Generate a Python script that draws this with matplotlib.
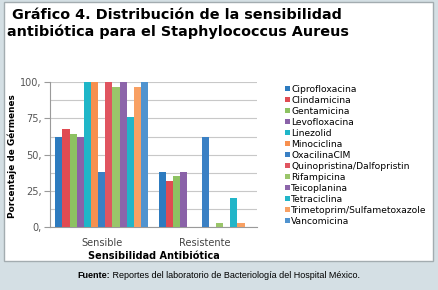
import matplotlib
matplotlib.use("Agg")
import matplotlib.pyplot as plt
import numpy as np
from matplotlib.patches import Rectangle

categories = ["Sensible", "Resistente"]
antibiotics = ["Ciprofloxacina", "Clindamicina", "Gentamicina", "Levofloxacina",
               "Linezolid", "Minociclina", "OxacilinaCIM", "Quinopristina/Dalfopristin",
               "Rifampicina", "Teicoplanina", "Tetraciclina",
               "Trimetoprim/Sulfametoxazole", "Vancomicina"]
sensible = [62, 68, 64, 62, 100, 100, 38, 100, 97, 100, 76, 97, 100]
resistente = [38, 32, 35, 38, 0, 0, 62, 0, 3, 0, 20, 3, 0]
colors = ['#2d7bbf', '#e04b52', '#8dc262', '#8a62a8', '#1fb6c8', '#f7904f',
          '#3a80c4', '#e05560', '#9ac56a', '#8c65aa', '#22b5c8', '#f8a063', '#5093cf']
yticks = [0, 25, 50, 75, 100]

W, H = 438, 290
fig = plt.figure(figsize=(W / 100, H / 100), dpi=100)
fig.patch.set_facecolor('#d4dfe4')

# white panel
fig.patches.append(Rectangle((4 / W, 1 - 261 / H), (433 - 4) / W, (261 - 2) / H,
                             transform=fig.transFigure, facecolor='white',
                             edgecolor='#a3acb0', linewidth=1.0, zorder=-10))

ax = fig.add_axes([50 / W, 1 - 227 / H, (257 - 50) / W, (227 - 82.3) / H])
ax.set_zorder(1)
ax.set_facecolor('white')

n = len(antibiotics)
group_w = 0.9
bw = group_w / n
x = np.arange(len(categories))
for i, name in enumerate(antibiotics):
    vals = [sensible[i], resistente[i]]
    ax.bar(x - group_w / 2 + bw * (i + 0.5), vals, width=bw, color=colors[i],
           label=name, zorder=3, linewidth=0)

ax.set_xlim(-0.5, 1.5)
ax.set_ylim(0, 100)
ax.set_yticks(yticks)
ax.set_yticklabels([f"{v}," for v in yticks], fontsize=7, color='#555555')
ax.set_yticks(np.arange(0, 101, 12.5), minor=True)
ax.tick_params(axis='y', which='minor', length=0)
ax.tick_params(axis='y', which='major', length=4, color='#9a9a9a', pad=2)
ax.grid(True, axis='y', which='both', color='#c8c8c8', linewidth=0.8, zorder=0)
ax.set_xticks(x)
ax.set_xticklabels(categories, fontsize=7, color='#444444')
ax.tick_params(axis='x', length=0, pad=8)
for s in ['top', 'right']:
    ax.spines[s].set_visible(False)
ax.spines['left'].set_color('#9a9a9a')
ax.spines['bottom'].set_color('#9a9a9a')

ax.set_ylabel("Porcentaje de Gérmenes", fontsize=6.4, fontweight='bold')
ax.yaxis.set_label_coords((17 - 50) / 207, (227 - 156) / 144.7)
ax.set_xlabel("Sensibilidad Antibiótica", fontsize=7, fontweight='bold')
ax.xaxis.set_label_coords(0.5, (227 - 251) / 144.7)

handles, labels = ax.get_legend_handles_labels()
leg = fig.legend(handles, labels, loc='upper left', bbox_to_anchor=(285 / W, 1 - 84.5 / H),
                 frameon=False, fontsize=6.6, handlelength=0.5, handleheight=0.5,
                 handletextpad=0.2, labelspacing=0.22, borderaxespad=0, borderpad=0)

fig.text(12 / W, 1 - 15 / H, "Gráfico 4. Distribución de la sensibilidad",
         fontsize=10.35, fontweight='bold', va='center', ha='left')
fig.text(7 / W, 1 - 32 / H, "antibiótica para el Staphylococcus Aureus",
         fontsize=10.35, fontweight='bold', va='center', ha='left')

t1 = fig.text(0, 1 - 275 / H, "Fuente:", fontsize=6.45, fontweight='bold',
              family='Liberation Sans', va='center', ha='left')
t2 = fig.text(0, 1 - 275 / H, " Reportes del laboratorio de Bacteriología del Hospital México.",
              fontsize=6.45, family='Liberation Sans', va='center', ha='left')
fig.canvas.draw()
r = fig.canvas.get_renderer()
w1 = t1.get_window_extent(r).width
w2 = t2.get_window_extent(r).width
start = (W - (w1 + w2)) / 2
t1.set_x(start / W)
t2.set_x((start + w1) / W)

fig.savefig("out.png", dpi=100, facecolor=fig.get_facecolor())
